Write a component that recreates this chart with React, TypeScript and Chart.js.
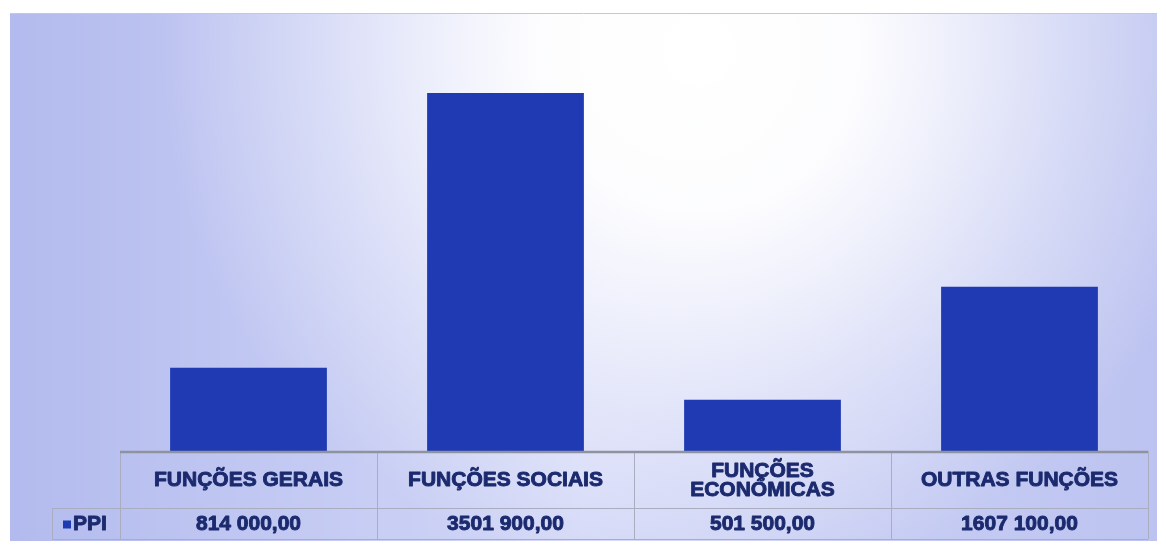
import React, { useEffect, useRef } from "react";
import { Chart, registerables } from "chart.js";

Chart.register(...registerables);

const categories: string[][] = [
  ["FUNÇÕES GERAIS"],
  ["FUNÇÕES SOCIAIS"],
  ["FUNÇÕES", "ECONÓMICAS"],
  ["OUTRAS FUNÇÕES"],
];
const seriesName = "PPI";
const values: number[] = [814000, 3501900, 501500, 1607100];
const valueLabels: string[] = ["814 000,00", "3501 900,00", "501 500,00", "1607 100,00"];

const BAR = "#1f3ab2";
const TEXT = "#1b2a6e";
const FONT = "bold 21px 'Liberation Sans', Arial, sans-serif";

const bgPlugin = {
  id: "bgPlugin",
  beforeDraw(chart: any) {
    const { ctx, width, height } = chart;
    ctx.save();
    ctx.fillStyle = "#ffffff";
    ctx.fillRect(0, 0, width, height);
    const x0 = 10, y0 = 13, x1 = 1157, y1 = 541;
    const lg = ctx.createLinearGradient(x0, 0, x1, 0);
    lg.addColorStop(0, "#b3bbee");
    lg.addColorStop(0.5, "#d3d8f7");
    lg.addColorStop(1, "#bcc3f0");
    ctx.fillStyle = lg;
    ctx.fillRect(x0, y0, x1 - x0, y1 - y0);
    const rg = ctx.createRadialGradient(700, 50, 0, 700, 50, 540);
    rg.addColorStop(0, "rgba(255,255,255,1)");
    rg.addColorStop(0.3, "rgba(255,255,255,0.95)");
    rg.addColorStop(0.7, "rgba(255,255,255,0.35)");
    rg.addColorStop(1, "rgba(255,255,255,0)");
    ctx.fillStyle = rg;
    ctx.fillRect(x0, y0, x1 - x0, y1 - y0);
    ctx.strokeStyle = "#c8c8d0";
    ctx.lineWidth = 1;
    ctx.beginPath();
    ctx.moveTo(x0, y0 + 0.5);
    ctx.lineTo(x1, y0 + 0.5);
    ctx.stroke();
    ctx.restore();
  },
};

function boldText(ctx: any, s: string, x: number, y: number) {
  ctx.strokeText(s, x, y);
  ctx.fillText(s, x, y);
}

const tablePlugin = {
  id: "tablePlugin",
  afterDraw(chart: any) {
    const { ctx, chartArea } = chart;
    const xs = chart.scales.x;
    const n = categories.length;
    const colW = (chartArea.right - chartArea.left) / n;
    const top = chartArea.bottom;
    const mid = top + 57;
    const bot = mid + 31;
    const legL = 52;
    ctx.save();
    ctx.strokeStyle = "#a9adbf";
    ctx.lineWidth = 1;
    ctx.beginPath();
    for (let i = 0; i <= n; i++) {
      const x = Math.round(chartArea.left + i * colW) + 0.5;
      ctx.moveTo(x, top);
      ctx.lineTo(x, bot);
    }
    ctx.moveTo(legL, mid + 0.5);
    ctx.lineTo(chartArea.right, mid + 0.5);
    ctx.moveTo(legL, bot + 0.5);
    ctx.lineTo(chartArea.right, bot + 0.5);
    ctx.moveTo(legL + 0.5, mid);
    ctx.lineTo(legL + 0.5, bot);
    ctx.stroke();
    ctx.strokeStyle = "#8f939f";
    ctx.lineWidth = 2.5;
    ctx.beginPath();
    ctx.moveTo(chartArea.left, top + 1);
    ctx.lineTo(chartArea.right, top + 1);
    ctx.stroke();

    ctx.fillStyle = TEXT;
    ctx.strokeStyle = TEXT;
    ctx.lineWidth = 0.9;
    ctx.lineJoin = "round";
    ctx.font = FONT;
    ctx.textAlign = "center";
    ctx.textBaseline = "middle";
    for (let i = 0; i < n; i++) {
      const cx = xs.getPixelForValue(i);
      const lines = categories[i];
      const lh = 19;
      const cy = (top + mid) / 2 + 1;
      lines.forEach((ln, k) => {
        boldText(ctx, ln, cx, cy + (k - (lines.length - 1) / 2) * lh);
      });
      boldText(ctx, valueLabels[i], cx, (mid + bot) / 2 + 1);
    }
    ctx.textAlign = "left";
    ctx.fillStyle = BAR;
    ctx.fillRect(63, (mid + bot) / 2 - 3, 8, 8);
    ctx.fillStyle = TEXT;
    boldText(ctx, seriesName, 73, (mid + bot) / 2 + 1);
    ctx.restore();
  },
};

export default function App() {
  const ref = useRef<HTMLCanvasElement>(null);
  useEffect(() => {
    document.body.style.margin = "0";
    const chart = new Chart(ref.current!, {
      type: "bar",
      data: {
        labels: categories.map((c) => c.join(" ")),
        datasets: [
          {
            label: seriesName,
            data: values,
            backgroundColor: BAR,
            barPercentage: 0.61,
            categoryPercentage: 1,
          },
        ],
      },
      options: {
        animation: false,
        responsive: false,
        layout: { padding: { left: 120, right: 18, top: 42, bottom: 97 } },
        plugins: { legend: { display: false }, tooltip: { enabled: false } },
        scales: {
          x: { display: false },
          y: { display: false, min: 0, max: 4000000 },
        },
      },
      plugins: [bgPlugin, tablePlugin],
    });
    return () => chart.destroy();
  }, []);
  return (
    <div style={{ width: 1166, height: 548 }}>
      <canvas ref={ref} width={1166} height={548} style={{ display: "block" }} />
    </div>
  );
}
